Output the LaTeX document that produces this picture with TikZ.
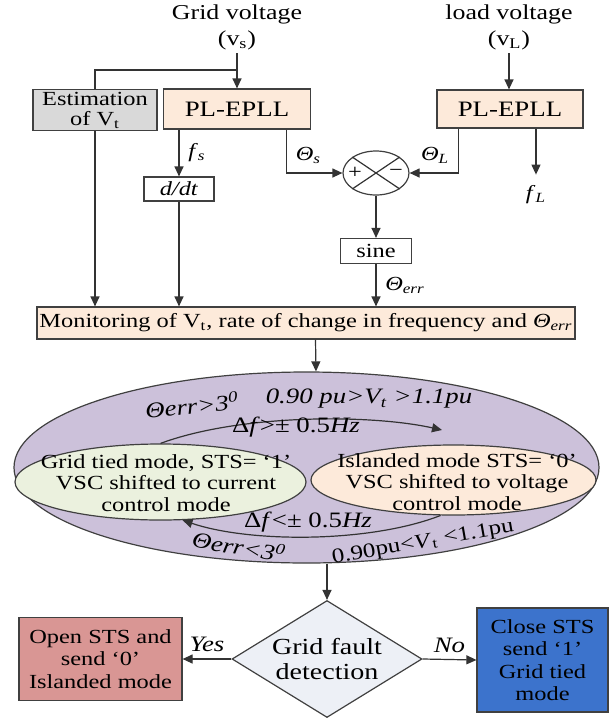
\documentclass[tikz,border=0pt]{standalone}
\usepackage{fontspec}
\setmainfont{Liberation Serif}[FakeStretch=1.22]
\usepackage{tikz}
\usetikzlibrary{shapes.geometric}
\usetikzlibrary{arrows.meta}

\definecolor{greybox}{HTML}{D9D9D9}
\definecolor{peach}{HTML}{FDEADA}
\definecolor{lilac}{HTML}{CCC1DA}
\definecolor{paleg}{HTML}{EBF1DE}
\definecolor{mist}{HTML}{EDF0F6}
\definecolor{rosy}{HTML}{D99694}
\definecolor{blu}{HTML}{3C73CC}

\begin{document}
\begin{tikzpicture}[
	x=0.5pt,y=-0.5pt,
	font=\fontsize{10}{10.8}\selectfont,
	line width=0.6pt,
	blk/.style={draw=black!75,rectangle,inner sep=0pt,align=center},
	ell/.style={draw=black!75,ellipse,inner sep=0pt},
	arr/.style={draw=black!80,-{Triangle[length=5pt,width=4.5pt]}},
	lbl/.style={inner sep=1.5pt,align=center},
	cond/.style={inner sep=0.5pt,font=\fontsize{11}{12}\selectfont}
]
	\useasboundingbox (0,0) rectangle (610,719);

	% inputs and PLLs
	\node[lbl,font=\fontsize{10.6}{13}\selectfont] (gv) at (237,27) {Grid voltage\\(v\textsubscript{s})};
	\node[lbl,font=\fontsize{10.6}{13}\selectfont] (lv) at (509,27) {load voltage\\(v\textsubscript{L})};
	\node[blk,fill=greybox,minimum width=62pt,minimum height=20.5pt,font=\fontsize{10}{10}\selectfont] (est) at (95,110) {Estimation\\of V\textsubscript{t}};
	\node[blk,fill=peach,minimum width=73.5pt,minimum height=20pt,font=\fontsize{11}{12}\selectfont] (gpll) at (237,109) {PL-EPLL};
	\node[blk,fill=peach,minimum width=73pt,minimum height=19pt,font=\fontsize{11}{12}\selectfont] (lpll) at (510,109) {PL-EPLL};
	\node[blk,minimum width=35pt,minimum height=12pt] (ddt) at (179,189) {\textit{d/dt}};
	\node[ell,minimum width=33pt,minimum height=22pt] (sum) at (376,173) {};
	\node[lbl] (plus) at (355,173) {+};
	\node[lbl] (minus) at (396,173) {\textminus};
	\node[blk,minimum width=35.5pt,minimum height=12.5pt] (sine) at (376,251) {sine};
	\node[blk,fill=peach,minimum width=269pt,minimum height=16pt] (mon) at (306,323)
		{Monitoring of V\textsubscript{t}, rate of change in frequency and \textit{Θ}\textsubscript{\textit{err}}};

	\draw[black!80] (sum.north east) -- (sum.south west)
		(sum.north west) -- (sum.south east);

	\coordinate (br) at (237,70);
	\draw[arr] (gv.south) -- (gpll.north);
	\draw[black!80] (br) -| (est.north);
	\draw[arr] (lv.south) -- (lv.south |- lpll.north);
	\draw[arr] (est.south) -- (est.south |- mon.north);
	\draw[arr] (gpll.south -| ddt.north) -- (ddt.north) node[midway,right=1pt,text=black] {\textit{f}\textsubscript{\textit{s}}};
	\draw[arr] (ddt.south) -- (ddt.south |- mon.north);
	\draw[arr] ([xshift=-12.25pt]gpll.south east) |- (sum.west) node[pos=0.3,right=1pt,text=black] {\textit{Θ}\textsubscript{\textit{s}}};
	\draw[arr] ([xshift=11pt]lpll.south west) |- (sum.east) node[pos=0.3,left=1pt,text=black] {\textit{Θ}\textsubscript{\textit{L}}};
	\draw[arr] ([xshift=13pt]lpll.south) -- ++(0,46) node[below=2pt,text=black] (fL) {\textit{f}\textsubscript{\textit{L}}};
	\draw[arr] (sum.south) -- (sine.north);
	\draw[arr] (sine.south) -- (sine.south |- mon.north) node[midway,right=1pt,text=black] {\textit{Θ}\textsubscript{\textit{err}}};

	% mode selection
	\node[ell,fill=lilac,minimum width=292.5pt,minimum height=95.5pt] (modes) at (306.5,467.5) {};
	\node[ell,fill=paleg,minimum width=145.5pt,minimum height=38pt] (gtm) at (160.5,482) {};
	\node[ell,fill=peach,minimum width=142.5pt,minimum height=35pt] (iml) at (453.5,480) {};
	\node[lbl] (gtmtxt) at (166,483) {Grid tied mode, STS= `1'\\VSC shifted to current\\control mode};
	\node[lbl] (imltxt) at (457,482) {Islanded mode STS= `0'\\VSC shifted to voltage\\control mode};

	\coordinate (upE) at (442,430);
	\draw[arr] (gtm.north) .. controls (240,414) and (370,414) .. (upE);
	\draw[arr] (iml.250) .. controls (370,543) and (250,543) .. (gtm.300);

	\node[cond,rotate=6] (c1) at (192,405) {\textit{Θerr>3\textsuperscript{0}}};
	\node[cond] (c2) at (369,399) {\textit{0.90 pu>V\textsubscript{t} >1.1pu}};
	\node[cond] (c3) at (296,427) {Δ\textit{f}>± 0.5\textit{Hz}};
	\node[cond] (c4) at (308,522) {Δ\textit{f}<± 0.5\textit{Hz}};
	\node[cond,rotate=-10] (c5) at (239,546) {\textit{Θerr<3\textsuperscript{0}}};
	\node[cond,rotate=10,font=\fontsize{10.3}{11}\selectfont] (c6) at (423,543) {0.90pu<\textit{V}\textsubscript{t} <1.1pu};

	% fault detection
	\node[diamond,draw=black!75,fill=mist,minimum width=95pt,minimum height=58.5pt,inner sep=0pt,aspect=1.6,align=center,font=\fontsize{11.5}{12.5}\selectfont] (gfd) at (327,659) {Grid fault\\detection};
	\node[blk,fill=rosy,minimum width=81.5pt,minimum height=41.5pt,font=\fontsize{10}{11.25}\selectfont] (open) at (100.5,659) {Open STS and\\send `0'\\Islanded mode};
	\node[blk,fill=blu,minimum width=65.5pt,minimum height=52pt,font=\fontsize{10}{11.15}\selectfont] (close) at (542.5,660) {Close STS\\send `1'\\Grid tied\\mode};

	\draw[arr] ([xshift=4.75pt]mon.south) -- ([xshift=4.75pt]modes.north);
	\draw[arr] (modes.south -| gfd.north) -- (gfd.north);
	\draw[arr] (gfd.west) -- (open.east) node[midway,above,text=black,font=\fontsize{11}{12}\selectfont] {\textit{Yes}};
	\draw[arr] (gfd.east) -- (close.west) node[midway,above,text=black,font=\fontsize{11}{12}\selectfont] {\textit{No}};
\end{tikzpicture}
\end{document}
